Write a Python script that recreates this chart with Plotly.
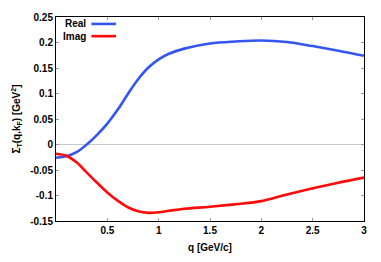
import plotly.graph_objects as go

q = [0.0, 0.1, 0.2, 0.3, 0.4, 0.5, 0.6, 0.7, 0.8, 0.9, 1.0, 1.1, 1.25, 1.5, 1.75, 2.0, 2.25, 2.5, 2.75, 3.0]
real_vals = [-0.026, -0.023, -0.015, 0.000, 0.019, 0.041, 0.068, 0.099, 0.128, 0.151, 0.167, 0.178, 0.188, 0.198, 0.202, 0.204, 0.201, 0.193, 0.184, 0.174]
imag_vals = [-0.018, -0.022, -0.035, -0.055, -0.075, -0.094, -0.110, -0.123, -0.131, -0.134, -0.133, -0.130, -0.126, -0.122, -0.117, -0.111, -0.098, -0.086, -0.075, -0.065]

x_ticks = [0.5, 1, 1.5, 2, 2.5, 3]
x_tick_labels = ["0.5", "1", "1.5", "2", "2.5", "3"]
y_ticks = [-0.15, -0.1, -0.05, 0, 0.05, 0.1, 0.15, 0.2, 0.25]
y_tick_labels = ["-0.15", "-0.1", "-0.05", "0", "0.05", "0.1", "0.15", "0.2", "0.25"]

BLUE = "#3355f0"
RED = "#ff0a0a"
FONT = "Liberation Sans"

fig = go.Figure()
fig.add_trace(go.Scatter(x=q, y=real_vals, mode="lines", name="Real",
                         line=dict(color=BLUE, width=2.6, shape="spline", smoothing=1.0)))
fig.add_trace(go.Scatter(x=q, y=imag_vals, mode="lines", name="Imag",
                         line=dict(color=RED, width=2.6, shape="spline", smoothing=1.0)))

fig.update_layout(
    width=381, height=262,
    margin=dict(l=56, r=17, t=11, b=39),
    paper_bgcolor="white", plot_bgcolor="white",
    showlegend=False,
    font=dict(family=FONT, size=10, color="black", weight="bold"),
)
fig.update_xaxes(
    range=[0, 3], tickvals=x_ticks, ticktext=x_tick_labels,
    showline=True, linecolor="black", linewidth=1, mirror="allticks",
    ticks="inside", ticklen=3, tickcolor="#999999",
    showgrid=False, zeroline=False,
    tickfont=dict(family=FONT, size=10, weight="bold"),
    title=dict(text="q [GeV/c]", font=dict(family=FONT, size=10, weight="bold"), standoff=8),
)
fig.update_yaxes(
    range=[-0.15, 0.25], tickvals=y_ticks, ticktext=y_tick_labels,
    showline=True, linecolor="black", linewidth=1, mirror="allticks",
    ticks="inside", ticklen=3, tickcolor="#999999",
    showgrid=False, zeroline=True, zerolinecolor="#c8c8c8", zerolinewidth=1,
    tickfont=dict(family=FONT, size=10, weight="bold"),
    title=dict(text="Σ<sub>T</sub>(q,k<sub>F</sub>) [GeV<sup>2</sup>]",
               font=dict(family=FONT, size=10, weight="bold"), standoff=7),
)

# legend drawn as text + line sample (gnuplot style)
legend_items = [("Real", BLUE, 0.966), ("Imag", RED, 0.906)]
for label, color, yy in legend_items:
    fig.add_annotation(xref="paper", yref="paper", x=0.105, y=yy, text=label,
                       showarrow=False, xanchor="right", yanchor="middle",
                       font=dict(family=FONT, size=10, weight="bold", color="black"))
    fig.add_shape(type="line", xref="paper", yref="paper", x0=0.115, x1=0.195, y0=yy, y1=yy,
                  line=dict(color=color, width=2.6))

fig.write_html("out.html", config={"displayModeBar": False},
               post_script="document.body.style.margin='0';")
